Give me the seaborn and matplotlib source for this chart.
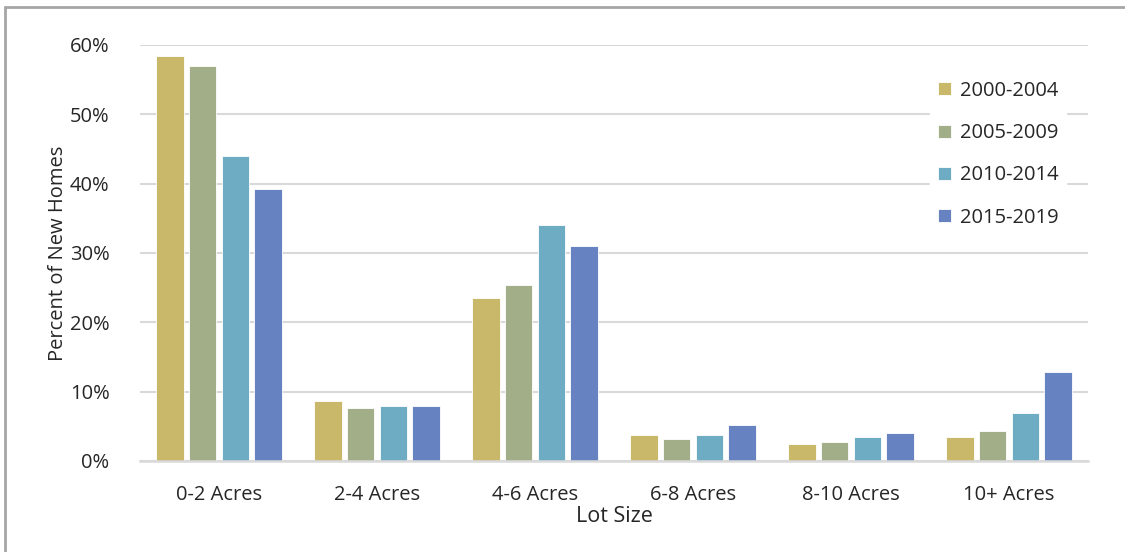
import matplotlib
matplotlib.use("Agg")
import matplotlib.pyplot as plt
from matplotlib.lines import Line2D
from matplotlib.ticker import FuncFormatter
import seaborn as sns
import pandas as pd

# Share of new homes by lot size, per construction period (percent)
lot_sizes = ["0-2 Acres", "2-4 Acres", "4-6 Acres", "6-8 Acres", "8-10 Acres", "10+ Acres"]
periods = ["2000-2004", "2005-2009", "2010-2014", "2015-2019"]
share_2000_2004 = [58.4, 8.7, 23.5, 3.7, 2.4, 3.4]
share_2005_2009 = [56.9, 7.7, 25.4, 3.2, 2.7, 4.3]
share_2010_2014 = [44.0, 7.9, 34.1, 3.8, 3.5, 6.9]
share_2015_2019 = [39.2, 7.9, 31.0, 5.2, 4.1, 12.8]
palette = ["#C9B869", "#A1AE88", "#6DACC2", "#6682C1"]

series = [share_2000_2004, share_2005_2009, share_2010_2014, share_2015_2019]
df = pd.DataFrame(
    [(lot, per, val) for per, vals in zip(periods, series) for lot, val in zip(lot_sizes, vals)],
    columns=["Lot Size", "Period", "Share"],
)

sns.set_theme(style="white")
plt.rcParams["font.family"] = ["Open Sans", "DejaVu Sans"]

fig = plt.figure(figsize=(11.25, 5.52), dpi=100)
ax = fig.add_axes([140 / 1125, 1 - 461 / 552, 948 / 1125, 416 / 552])

sns.barplot(
    data=df, x="Lot Size", y="Share", hue="Period", order=lot_sizes, hue_order=periods,
    palette=palette, width=0.83, gap=0.16, ax=ax, saturation=1,
    edgecolor="white", linewidth=0.6,
)

ax.set_xlim(-0.5, 5.5)
ax.set_ylim(0, 60)
ax.set_yticks(range(0, 61, 10))
ax.yaxis.set_major_formatter(FuncFormatter(lambda v, p: f"{v:.0f}%"))
ax.grid(axis="y", color="#D9D9D9", linewidth=1.5)
ax.set_axisbelow(True)
for side in ["top", "right", "left"]:
    ax.spines[side].set_visible(False)
ax.spines["bottom"].set_color("#D9D9D9")
ax.spines["bottom"].set_linewidth(1.8)
ax.tick_params(axis="both", length=0, labelsize=14.5, colors="#262626")
ax.tick_params(axis="x", pad=17)
ax.tick_params(axis="y", pad=22)

ax.set_xlabel("Lot Size", fontsize=15.5, color="#262626", labelpad=1)
ax.set_ylabel("Percent of New Homes", fontsize=14.5, color="#262626", labelpad=1)

leg = ax.legend(
    loc="upper left", bbox_to_anchor=((930 - 140) / 948, (461 - 73) / 416), frameon=True,
    fontsize=14.5, handlelength=0.62, handleheight=0.62, handletextpad=0.45,
    labelspacing=1.1, borderpad=0.4, borderaxespad=0, title=None,
)
leg.get_frame().set_facecolor("white")
leg.get_frame().set_edgecolor("white")
leg.get_frame().set_alpha(1)
for t in leg.get_texts():
    t.set_color("#262626")

# Frame lines along the top and left of the figure
fig.add_artist(Line2D([5 / 1125, 1], [1 - 7 / 552, 1 - 7 / 552], transform=fig.transFigure,
                      color="#A6A6A6", linewidth=2))
fig.add_artist(Line2D([5 / 1125, 5 / 1125], [0, 1 - 7 / 552], transform=fig.transFigure,
                      color="#A6A6A6", linewidth=2))

fig.savefig("out.png", dpi=100, facecolor="white")
